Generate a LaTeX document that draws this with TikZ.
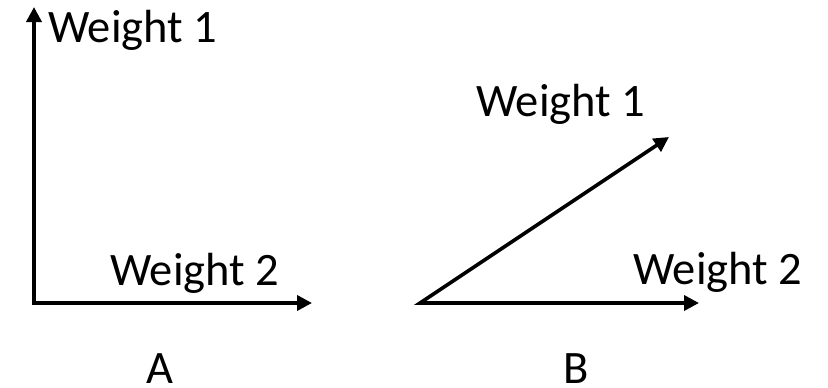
\documentclass[tikz,border=0pt]{standalone}
\usepackage{fontspec}
\setmainfont{Carlito}
\usepackage{tikz}
\usetikzlibrary{arrows.meta}

\begin{document}
\begin{tikzpicture}[x=1pt, y=-1pt,
  axis/.style={line width=3.6pt, line join=miter, {Triangle[length=15pt,width=15pt]}-{Triangle[length=15pt,width=15pt]}},
  lbl/.style={inner sep=0pt, font=\fontsize{46.5}{56}\selectfont}]
\useasboundingbox (0,0) rectangle (828,388);
% panel A
\coordinate (oA) at (34,303);
\coordinate (yA) at (34,7);
\coordinate (xA) at (312,303);
\draw[axis] (yA) -- (oA) -- (xA);
\node[lbl, anchor=base west] (wa1) at (48,42) {Weight 1};
\node[lbl, anchor=base west] (wa2) at (110,285) {Weight 2};
\node[lbl, anchor=base] (capA) at (160,383) {A};
% panel B
\coordinate (oB) at (420,303);
\coordinate (yB) at (669,137);
\coordinate (xB) at (699,303);
\draw[axis] (yB) -- (oB) -- (xB);
\node[lbl, anchor=base west] (wb1) at (476,116) {Weight 1};
\node[lbl, anchor=base west] (wb2) at (633,284) {Weight 2};
\node[lbl, anchor=base] (capB) at (576,383) {B};
\end{tikzpicture}
\end{document}
